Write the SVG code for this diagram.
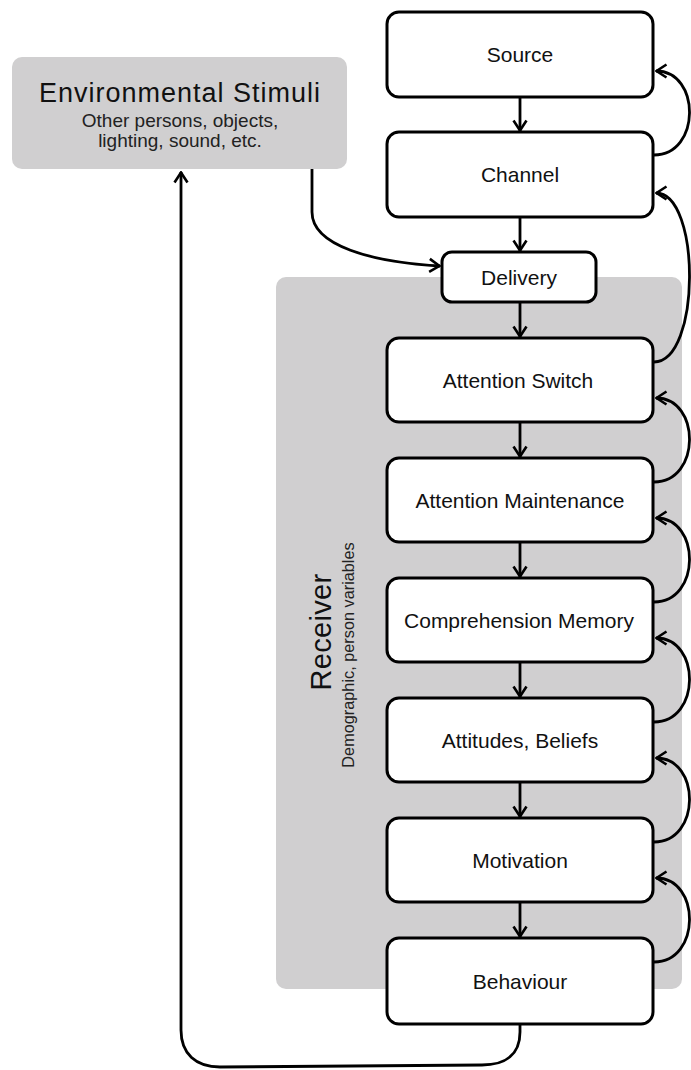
<svg xmlns="http://www.w3.org/2000/svg" width="691" height="1070" viewBox="0 0 691 1070">
  <style>
    .box { fill: #ffffff; stroke: #000000; stroke-width: 3; }
    .panel { fill: #d0cfd0; stroke: none; }
    .lbl { font-family: "Liberation Sans", Arial, sans-serif; font-size: 21px; fill: #111111; text-anchor: middle; }
    .title { font-family: "Liberation Sans", Arial, sans-serif; font-size: 27px; letter-spacing: 1px; fill: #111111; text-anchor: middle; }
    .sub { font-family: "Liberation Sans", Arial, sans-serif; font-size: 19px; fill: #222222; text-anchor: middle; }
    .conn { fill: none; stroke: #000000; stroke-width: 2.8; marker-end: url(#ah); }
  </style>
  <defs>
    <marker id="ah" viewBox="0 0 13 16" refX="12" refY="8" markerWidth="13" markerHeight="16" markerUnits="userSpaceOnUse" orient="auto">
      <path d="M1.5,1.5 L11.5,8 L1.5,14.5" fill="none" stroke="#000000" stroke-width="2.6"/>
    </marker>
  </defs>

  <!-- background panels -->
  <g id="receiver">
    <rect class="panel" x="276" y="277" width="406" height="712" rx="10"/>
    <text class="title" style="font-size:29px;letter-spacing:0.3px" transform="translate(331,632) rotate(-90)">Receiver</text>
    <text class="sub" style="font-size:16.3px" transform="translate(354,655) rotate(-90)">Demographic, person variables</text>
  </g>

  <g id="environment">
    <rect class="panel" x="12" y="57" width="335" height="112" rx="10"/>
    <text class="title" x="180" y="102">Environmental Stimuli</text>
    <text class="sub" x="180" y="127">Other persons, objects,</text>
    <text class="sub" x="180" y="147">lighting, sound, etc.</text>
  </g>

  <!-- connectors -->
  <g id="connectors">
    <!-- forward chain -->
    <line class="conn" x1="520" y1="98" x2="520" y2="131"/>
    <line class="conn" x1="520" y1="218" x2="520" y2="251"/>
    <line class="conn" x1="520" y1="303" x2="520" y2="337"/>
    <line class="conn" x1="520" y1="423" x2="520" y2="457"/>
    <line class="conn" x1="520" y1="543" x2="520" y2="577"/>
    <line class="conn" x1="520" y1="663" x2="520" y2="697"/>
    <line class="conn" x1="520" y1="783" x2="520" y2="817"/>
    <line class="conn" x1="520" y1="903" x2="520" y2="937"/>

    <!-- stimuli into delivery -->
    <path class="conn" d="M312,169 L312,212 C312,246 372,262 440,266"/>

    <!-- feedback loops on the right -->
    <path class="conn" d="M654,155 C701,155 701,71 656,71"/>
    <path class="conn" d="M654,362 C701,362 701,193 656,193"/>
    <path class="conn" d="M654,482 C701,482 701,398 656,398"/>
    <path class="conn" d="M654,602 C701,602 701,518 656,518"/>
    <path class="conn" d="M654,722 C701,722 701,638 656,638"/>
    <path class="conn" d="M654,842 C701,842 701,758 656,758"/>
    <path class="conn" d="M654,962 C701,962 701,878 656,878"/>

    <!-- behaviour back to the environment -->
    <path class="conn" d="M520,1024 L520,1032 C520,1054 506,1065 482,1065 L220,1067 C196,1067 181,1054 181,1030 L181,172"/>
  </g>

  <!-- nodes -->
  <g id="source">
    <rect class="box" x="387" y="12" width="266" height="85" rx="12"/>
    <text class="lbl" x="520" y="62">Source</text>
  </g>
  <g id="channel">
    <rect class="box" x="387" y="132" width="266" height="85" rx="12"/>
    <text class="lbl" x="520" y="182">Channel</text>
  </g>
  <g id="delivery">
    <rect class="box" x="442" y="252" width="154" height="50" rx="10"/>
    <text class="lbl" x="519" y="284.5">Delivery</text>
  </g>
  <g id="attention-switch">
    <rect class="box" x="387" y="338" width="266" height="84" rx="12"/>
    <text class="lbl" x="518" y="387.5">Attention Switch</text>
  </g>
  <g id="attention-maintenance">
    <rect class="box" x="387" y="458" width="266" height="84" rx="12"/>
    <text class="lbl" x="520" y="507.5">Attention Maintenance</text>
  </g>
  <g id="comprehension-memory">
    <rect class="box" x="387" y="578" width="266" height="84" rx="12"/>
    <text class="lbl" x="519" y="627.5">Comprehension Memory</text>
  </g>
  <g id="attitudes-beliefs">
    <rect class="box" x="387" y="698" width="266" height="84" rx="12"/>
    <text class="lbl" x="520" y="747.5">Attitudes, Beliefs</text>
  </g>
  <g id="motivation">
    <rect class="box" x="387" y="818" width="266" height="84" rx="12"/>
    <text class="lbl" x="520" y="867.5">Motivation</text>
  </g>
  <g id="behaviour">
    <rect class="box" x="387" y="938" width="266" height="86" rx="12"/>
    <text class="lbl" x="520" y="988.5">Behaviour</text>
  </g>
</svg>
